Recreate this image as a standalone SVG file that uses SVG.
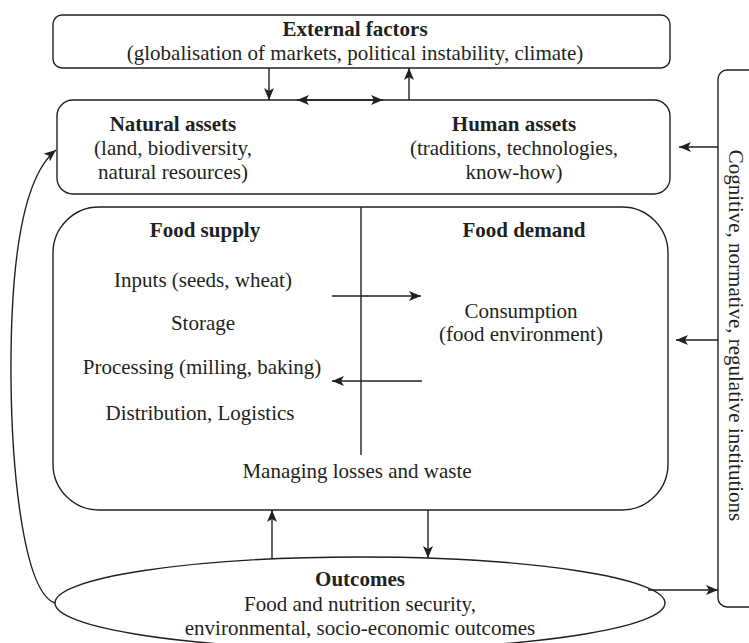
<svg xmlns="http://www.w3.org/2000/svg" width="749" height="643" viewBox="0 0 749 643">
<style>
.box{fill:#fff;stroke:#231f20;stroke-width:1.4}
.ln{fill:none;stroke:#231f20;stroke-width:1.4}
.arr{fill:none;stroke:#231f20;stroke-width:1.4;marker-end:url(#ah)}
.dbl{fill:none;stroke:#231f20;stroke-width:1.4;marker-end:url(#ah);marker-start:url(#ah)}
text{font-family:"Liberation Serif","Times New Roman",serif;font-size:21px;fill:#231f20;text-anchor:middle}
.b{font-weight:bold}
</style>
<defs>
<marker id="ah" viewBox="0 0 12 10" refX="12" refY="5" markerWidth="12" markerHeight="10" markerUnits="userSpaceOnUse" orient="auto-start-reverse">
<path d="M0,0 L12,5 L0,10 L3,5 z" fill="#231f20"/>
</marker>
</defs>
<rect width="749" height="643" fill="#fff"/>
<g id="external">
<rect class="box" x="53" y="15" width="617" height="53" rx="9"/>
<text class="b" x="355" y="36">External factors</text>
<text x="355" y="60">(globalisation of markets, political instability, climate)</text>
</g>
<g id="assets">
<rect class="box" x="57" y="100" width="613" height="94" rx="16"/>
<text class="b" x="173" y="131">Natural assets</text>
<text x="173" y="155">(land, biodiversity,</text>
<text x="173" y="179">natural resources)</text>
<text class="b" x="514" y="131">Human assets</text>
<text x="514" y="155">(traditions, technologies,</text>
<text x="514" y="179">know-how)</text>
</g>
<g id="food">
<rect class="box" x="53" y="207" width="615" height="303" rx="46"/>
<line class="ln" x1="361" y1="207" x2="361" y2="455"/>
<text class="b" x="205" y="237">Food supply</text>
<text class="b" x="524" y="237">Food demand</text>
<text x="203" y="287">Inputs (seeds, wheat)</text>
<text x="203" y="330">Storage</text>
<text x="202" y="374">Processing (milling, baking)</text>
<text x="200" y="420">Distribution, Logistics</text>
<text x="521" y="318">Consumption</text>
<text x="521" y="341">(food environment)</text>
<text x="357" y="478">Managing losses and waste</text>
</g>
<g id="institutions">
<rect class="box" x="718" y="70" width="60" height="537" rx="9"/>
<text transform="translate(729,335.5) rotate(90)">Cognitive, normative, regulative institutions</text>
</g>
<g id="outcomes">
<ellipse class="box" cx="360" cy="603" rx="305" ry="46"/>
<text class="b" x="360" y="586">Outcomes</text>
<text x="360" y="611">Food and nutrition security,</text>
<text x="360" y="635">environmental, socio-economic outcomes</text>
</g>
<g id="connectors">
<line class="arr" x1="269" y1="68" x2="269" y2="100"/>
<line class="dbl" x1="297" y1="100" x2="383" y2="100"/>
<line class="arr" x1="409" y1="100" x2="409" y2="68"/>
<line class="arr" x1="332" y1="296" x2="421" y2="296"/>
<line class="arr" x1="422" y1="381" x2="332" y2="381"/>
<line class="arr" x1="272" y1="559" x2="272" y2="510"/>
<line class="arr" x1="428" y1="510" x2="428" y2="558"/>
<line class="arr" x1="718" y1="147" x2="679" y2="147"/>
<line class="arr" x1="718" y1="340" x2="676" y2="340"/>
<line class="arr" x1="648" y1="590" x2="718" y2="590"/>
<path class="arr" d="M55,603 C25,593 12,480 11,380 C10,250 25,175 56,150"/>
</g>
</svg>
